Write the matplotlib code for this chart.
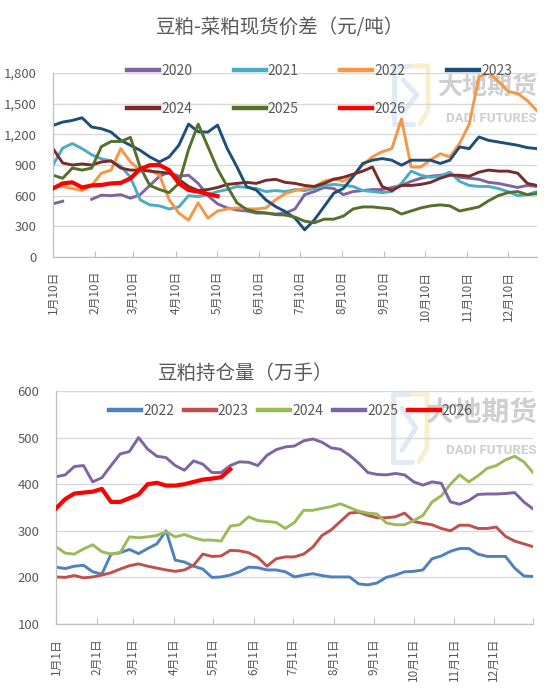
import numpy as np
import pandas as pd
import matplotlib
matplotlib.use('Agg')
import matplotlib.pyplot as plt
from matplotlib.ticker import FuncFormatter, MultipleLocator
from matplotlib.lines import Line2D
from matplotlib.transforms import IdentityTransform

plt.rcParams['font.family'] = ['Noto Sans CJK SC', 'DejaVu Sans']

nan = np.nan

# ---------------- Top chart: soybean meal - rapeseed meal spot spread ----------------
top_title = '豆粕-菜粕现货价差（元/吨）'
top_years = ['2020', '2021', '2022', '2023', '2024', '2025', '2026']
spread_2020 = [520, 545, nan, nan, 565, 605, 600, 610, 575, 610, 700, 790, 830, 790, 800, 720, 600,
               520, 480, 460, 450, 430, 430, 420, 430, 470, 610, 640, 680, 670, 610, 640, 650, 660,
               660, 680, 700, 740, 770, 790, 800, 810, 780, 770, 760, 730, 720, 700, 680, 700, 690]
spread_2021 = [900, 1065, 1110, 1060, 1000, 960, 940, 890, 780, 560, 510, 500, 470, 490, 600, 590, 610,
               640, 660, 690, 680, 670, 640, 650, 640, 660, 650, 670, 700, 710, 700, 690, 650, 640,
               630, 640, 720, 840, 800, 780, 790, 830, 740, 700, 690, 690, 670, 640, 600, 610, 640]
spread_2022 = [688, 690, 670, 650, 700, 820, 850, 1060, 930, 850, 850, 800, 560, 430, 360, 530, 380,
               450, 470, 480, 470, 470, 480, 560, 620, 650, 670, 690, 740, 765, 740, 800, 900, 980,
               1030, 1060, 1350, 880, 880, 950, 1010, 980, 1110, 1300, 1760, 1800, 1720, 1620, 1600, 1530, 1430]
spread_2023 = [1287, 1320, 1336, 1362, 1271, 1255, 1222, 1141, 1093, 1044, 979, 930, 979, 1093, 1300, 1225, 1222,
               1290, 1060, 882, 688, 655, 558, 493, 444, 380, 266, 363, 493, 623, 671, 785, 915, 947,
               963, 947, 898, 947, 947, 947, 915, 947, 1077, 1060, 1174, 1141, 1125, 1109, 1093, 1070, 1060]
spread_2024 = [1060, 920, 900, 910, 900, 930, 940, 870, 850, 850, 840, 830, 820, 760, 690, 650, 660,
               680, 710, 720, 730, 720, 750, 760, 730, 720, 700, 690, 720, 760, 780, 810, 840, 880,
               690, 650, 700, 700, 710, 730, 770, 800, 800, 790, 830, 850, 840, 840, 820, 720, 700]
spread_2025 = [800, 770, 870, 850, 870, 1080, 1130, 1130, 1170, 880, 700, 660, 630, 720, 1050, 1300, 1080,
               860, 690, 530, 465, 440, 430, 415, 410, 390, 350, 335, 370, 370, 400, 470, 490, 490,
               480, 470, 420, 450, 480, 500, 510, 500, 450, 470, 490, 550, 600, 630, 640, 610, 620]
spread_2026 = [670, 720, 730, 680, 700, 705, 720, 725, 769, 860, 898, 900, 850, 720, 655, 640, 615,
               595] + [nan] * 33

# ---------------- Bottom chart: soybean meal open interest ----------------
bot_title = '豆粕持仓量（万手）'
bot_years = ['2022', '2023', '2024', '2025', '2026']
oi_2022 = [222, 219, 224, 226, 212, 207, 250, 253, 260, 251, 262, 272, 300, 237, 233, 224, 218, 200,
           201, 205, 212, 222, 221, 216, 216, 212, 201, 205, 208, 204, 201, 201, 201, 186, 184, 188,
           200, 205, 212, 213, 216, 240, 246, 256, 262, 262, 250, 245, 245, 245, 220, 203, 202]
oi_2023 = [201, 200, 204, 199, 201, 205, 210, 218, 225, 229, 224, 220, 216, 213, 216, 226, 250, 245,
           246, 258, 257, 253, 243, 224, 240, 244, 244, 250, 265, 290, 302, 320, 338, 340, 333, 328,
           328, 330, 338, 320, 316, 313, 305, 300, 312, 312, 305, 305, 308, 288, 278, 272, 266]
oi_2024 = [266, 252, 250, 261, 270, 255, 250, 253, 287, 285, 287, 290, 298, 287, 292, 285, 280, 280,
           278, 310, 313, 330, 322, 320, 318, 305, 318, 344, 344, 348, 352, 358, 350, 342, 338, 336,
           317, 313, 313, 322, 333, 362, 375, 400, 420, 405, 418, 434, 440, 452, 460, 448, 425]
oi_2025 = [416, 420, 438, 440, 405, 414, 440, 465, 470, 500, 475, 460, 457, 440, 430, 450, 443, 425,
           425, 440, 448, 447, 440, 462, 474, 480, 482, 493, 497, 490, 478, 475, 462, 445, 425, 421,
           420, 423, 420, 405, 398, 405, 402, 362, 357, 365, 378, 379, 379, 380, 382, 362, 347]
oi_2026 = [348, 368, 380, 382, 384, 390, 362, 362, 370, 378, 400, 403, 397, 397, 400, 405, 410, 412,
           415, 432] + [nan] * 33

top_colors = ['#8064A2', '#4BACC6', '#F79646', '#1F4E79', '#772C2A', '#56702C', '#FF0000']
bot_colors = ['#4F81BD', '#C0504D', '#9BBB59', '#8064A2', '#FF0000']

TXT = '#595959'
W, H = 550, 694
fig = plt.figure(figsize=(W / 100, H / 100), dpi=100)


def watermark(x0, y0, y1, cn_y, cn_size, en_y):
    # company watermark: logo strokes + "大地期货" / "DADI FUTURES"
    fig.text(537 / W, 1 - cn_y / H, '大地期货', ha='right', va='center', fontsize=cn_size,
             fontweight='bold', color='#BFBFBF', alpha=0.75, zorder=-5)
    fig.text(537 / W, 1 - en_y / H, 'DADI FUTURES', ha='right', va='center', fontsize=9.5,
             fontweight='bold', color='#BFBFBF', alpha=0.75, zorder=-5,
             family=['Roboto', 'DejaVu Sans'])
    lx0, lx1 = x0, x0 + 37
    kw = dict(lw=3.5, transform=IdentityTransform(), zorder=-5, solid_capstyle='round')
    fig.add_artist(Line2D([lx0 + 18, lx0 + 3, lx0 + 3, lx0 + 22], [H - y0, H - y0, H - y1, H - y1],
                          color='#C9DCEF', alpha=0.6, **kw))
    fig.add_artist(Line2D([lx0 + 20, lx1, lx1, lx1 - 8], [H - y0, H - y0, H - y1 + 14, H - y1],
                          color='#F6E9B8', alpha=0.7, **kw))
    fig.add_artist(Line2D([lx0 + 12, lx0 + 26, lx0 + 12], [H - y0 - 14, H - (y0 + y1) / 2, H - y1 + 12],
                          color='#C9DCEF', alpha=0.6, **kw))


def style(ax, xticks, xlabels, xlim, ylim, ystep, fmt):
    ax.set_facecolor('none')
    for s in ['top', 'right']:
        ax.spines[s].set_visible(False)
    for s in ['left', 'bottom']:
        ax.spines[s].set_color('#BFBFBF')
        ax.spines[s].set_linewidth(0.9)
    ax.set_xlim(*xlim)
    ax.set_ylim(*ylim)
    ax.yaxis.set_major_locator(MultipleLocator(ystep))
    ax.yaxis.set_major_formatter(FuncFormatter(fmt))
    ax.grid(axis='y', color='#D9D9D9', lw=1.0)
    ax.set_axisbelow(True)
    ax.set_xticks(xticks)
    ax.set_xticklabels(xlabels, rotation=90, va='top', ha='center')
    ax.tick_params(axis='y', length=0, labelsize=9.5, labelcolor=TXT, pad=12)
    ax.tick_params(axis='x', direction='in', length=4, color='#BFBFBF', labelsize=8.5,
                   labelcolor=TXT, pad=10)


# ---------------- Top axes ----------------
ax1 = fig.add_axes([53 / W, 1 - 257 / H, 484 / W, 184 / H])
top_dates = pd.date_range('2001-01-10', '2001-12-31', periods=51)
top_series = [spread_2020, spread_2021, spread_2022, spread_2023, spread_2024, spread_2025, spread_2026]
handles1 = []
for yr, vals, c in zip(top_years, top_series, top_colors):
    lw = 3.0 if yr == '2026' else 2.1
    ln, = ax1.plot(top_dates, np.array(vals, dtype=float), color=c, lw=lw, solid_joinstyle='round',
                   zorder=3 if yr == '2026' else 2, label=yr)
    handles1.append(ln)
tick1 = [pd.Timestamp(2001, m, 10) for m in range(1, 13)]
style(ax1, tick1, [f'{m}月10日' for m in range(1, 13)],
      (pd.Timestamp('2001-01-10'), pd.Timestamp('2001-12-31')), (0, 1800), 300,
      lambda v, p: f'{v:,.0f}')
fig.text(280 / W, 1 - 27 / H, top_title, ha='center', va='center', fontsize=14, color=TXT)
order = [0, 4, 1, 5, 2, 6, 3]
leg1 = fig.legend([handles1[i] for i in order], [top_years[i] for i in order], ncol=4,
                  loc='upper left', bbox_to_anchor=(127 / W, 1 - 64 / H), frameon=False,
                  fontsize=10, handlelength=2.3, handletextpad=0.15, columnspacing=3.0,
                  labelspacing=1.75, borderpad=0, borderaxespad=0)
for t in leg1.get_texts():
    t.set_color(TXT)
for h in leg1.legend_handles:
    h.set_linewidth(3.2)
watermark(391, 66, 124, 87, 18, 119)

# ---------------- Bottom axes ----------------
ax2 = fig.add_axes([56 / W, 1 - 624 / H, 477 / W, 233 / H])
bot_dates = pd.date_range('2001-01-01', '2001-12-31', periods=53)
bot_series = [oi_2022, oi_2023, oi_2024, oi_2025, oi_2026]
handles2 = []
for yr, vals, c in zip(bot_years, bot_series, bot_colors):
    lw = 3.0 if yr == '2026' else 2.1
    ln, = ax2.plot(bot_dates, np.array(vals, dtype=float), color=c, lw=lw, solid_joinstyle='round',
                   zorder=3 if yr == '2026' else 2, label=yr)
    handles2.append(ln)
tick2 = [pd.Timestamp(2001, m, 1) for m in range(1, 13)]
style(ax2, tick2, [f'{m}月1日' for m in range(1, 13)],
      (pd.Timestamp('2001-01-01'), pd.Timestamp('2001-12-31')), (100, 600), 100,
      lambda v, p: f'{v:.0f}')
ax2.set_xticks([pd.Timestamp('2001-12-31')], minor=True)
ax2.tick_params(axis='x', which='minor', direction='in', length=4, color='#BFBFBF')
fig.text(246 / W, 1 - 373 / H, bot_title, ha='center', va='center', fontsize=14, color=TXT)
leg2 = fig.legend(handles2, bot_years, ncol=5, loc='upper left',
                  bbox_to_anchor=(109 / W, 1 - 404 / H), frameon=False, fontsize=10,
                  handlelength=2.3, handletextpad=0.15, columnspacing=0.7,
                  borderpad=0, borderaxespad=0)
for t in leg2.get_texts():
    t.set_color(TXT)
for h in leg2.legend_handles:
    h.set_linewidth(3.2)
watermark(390, 394, 462, 414, 20, 450)

fig.savefig('out.png', dpi=100, facecolor='white')
